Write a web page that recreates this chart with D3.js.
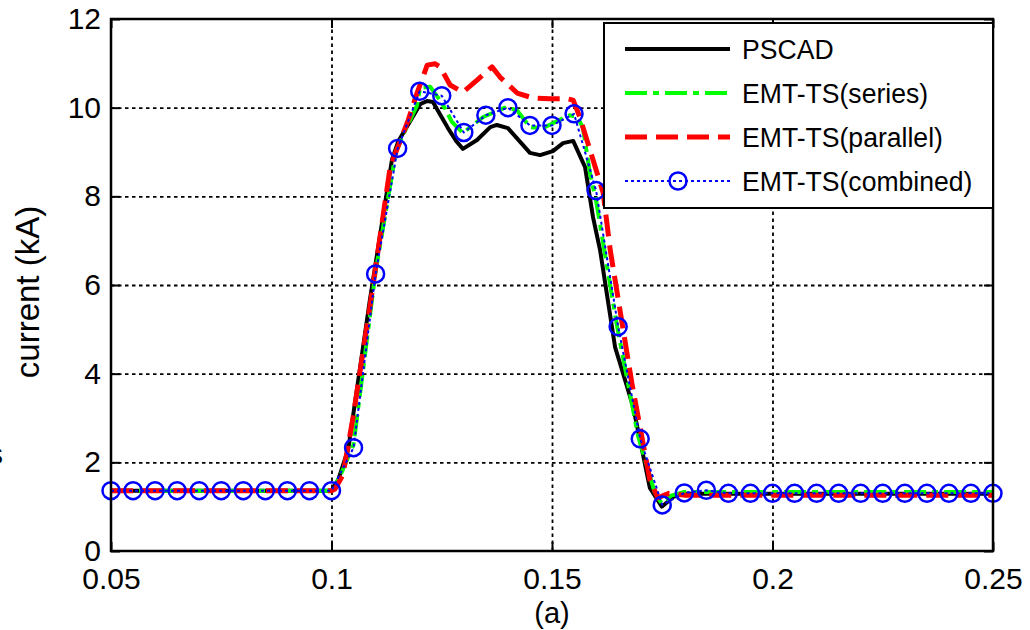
<!DOCTYPE html>
<html>
<head>
<meta charset="utf-8">
<script src="https://cdn.jsdelivr.net/npm/d3@7"></script>
<style>
  body { margin: 0; background: #fff; }
  text { font-family: "Liberation Sans", Arial, sans-serif; fill: #000; }
</style>
</head>
<body>
<script>
// x ticks / y ticks
var xTicks = [0.05, 0.1, 0.15, 0.2, 0.25];
var xTickLabels = ["0.05", "0.1", "0.15", "0.2", "0.25"];
var yTicks = [0, 2, 4, 6, 8, 10, 12];
var yTickLabels = ["0", "2", "4", "6", "8", "10", "12"];

var seriesNames = ["PSCAD", "EMT-TS(series)", "EMT-TS(parallel)", "EMT-TS(combined)"];

// PSCAD (black solid)
var pscadT = [0.05, 0.1, 0.1015, 0.1038, 0.1087, 0.1137, 0.1151, 0.1201, 0.1217, 0.123, 0.1264, 0.1284, 0.1298,
    0.133, 0.136, 0.1375, 0.14, 0.145, 0.1473, 0.1502, 0.1525, 0.1548, 0.1575, 0.1593, 0.1609, 0.1643, 0.1654,
    0.1684, 0.1722, 0.1749, 0.1775, 0.18, 0.25];
var pscadI = [1.36, 1.36, 1.6, 2.3, 5.66, 8.82, 9.23, 10.08, 10.15, 10.13, 9.54, 9.23, 9.07,
    9.27, 9.56, 9.61, 9.54, 8.98, 8.93, 9.02, 9.2, 9.25, 8.66, 7.53, 6.79, 4.6, 4.24,
    3.25, 1.42, 1.0, 1.22, 1.29, 1.29];

// EMT-TS(series) (green dash-dot)
var seriesT = [0.05, 0.1, 0.102, 0.105, 0.11, 0.1146, 0.117, 0.1194, 0.1201, 0.1224, 0.1242, 0.1257, 0.1273,
    0.1298, 0.1344, 0.1393, 0.142, 0.145, 0.148, 0.1502, 0.154, 0.1557, 0.157, 0.1586, 0.16, 0.1647, 0.1695,
    0.1735, 0.1749, 0.177, 0.18, 0.25];
var seriesI = [1.36, 1.36, 1.7, 2.4, 6.3, 9.0, 9.55, 10.05, 10.45, 10.47, 10.22, 9.99, 9.68,
    9.43, 9.79, 10.0, 9.95, 9.56, 9.54, 9.65, 9.83, 9.79, 9.56, 8.52, 7.9, 5.1, 2.6,
    1.25, 1.08, 1.25, 1.33, 1.33];

// EMT-TS(parallel) (red dashed)
var parallelT = [0.05, 0.1, 0.1008, 0.1026, 0.1049, 0.1087, 0.1133, 0.1174, 0.1194, 0.1217, 0.1235, 0.1246,
    0.1269, 0.1298, 0.133, 0.1364, 0.1382, 0.1421, 0.1456, 0.1495, 0.1534, 0.1548, 0.1563, 0.1586, 0.1616,
    0.1632, 0.1681, 0.1722, 0.174, 0.1765, 0.18, 0.25];
var parallelI = [1.36, 1.36, 1.4, 1.72, 3.02, 5.5, 8.66, 9.72, 10.33, 10.96, 10.99, 10.92,
    10.51, 10.35, 10.62, 10.92, 10.69, 10.33, 10.22, 10.2, 10.2, 10.17, 9.79, 9.05, 8.08,
    6.79, 3.79, 1.6, 1.2, 1.3, 1.26, 1.26];

// EMT-TS(combined) (blue dotted, circles every 0.005 s)
var combinedT = [0.05, 0.055, 0.06, 0.065, 0.07, 0.075, 0.08, 0.085, 0.09, 0.095, 0.1,
    0.105, 0.11, 0.115, 0.12, 0.125, 0.13, 0.135, 0.14, 0.145, 0.15, 0.155, 0.16, 0.165, 0.17,
    0.175, 0.18, 0.185, 0.19, 0.195, 0.2, 0.205, 0.21, 0.215, 0.22, 0.225, 0.23, 0.235, 0.24, 0.245, 0.25];
var combinedI = [1.36, 1.36, 1.36, 1.36, 1.36, 1.36, 1.36, 1.36, 1.36, 1.36, 1.36,
    2.33, 6.25, 9.08, 10.37, 10.27, 9.44, 9.83, 10.0, 9.6, 9.6, 9.86, 8.13, 5.06, 2.53,
    1.04, 1.31, 1.37, 1.3, 1.3, 1.3, 1.3, 1.3, 1.3, 1.3, 1.3, 1.3, 1.3, 1.3, 1.3, 1.3];

var margin = {top: 19, right: 37, bottom: 79, left: 111};
var width = 1030 - margin.left - margin.right;
var height = 630 - margin.top - margin.bottom;
var tickFont = "30px";

var svg = d3.select("body")
    .append("svg")
    .attr("width", 1030)
    .attr("height", 630);

var g = svg.append("g")
    .attr("transform", "translate(" + margin.left + ", " + margin.top + ")");

var x = d3.scaleLinear()
    .domain([0.05, 0.25])
    .range([0, width]);

var y = d3.scaleLinear()
    .domain([0, 12])
    .range([height, 0]);

// grid
var gridX = d3.axisBottom(x).tickValues(xTicks.slice(1, -1)).tickSize(-height).tickFormat("");
g.append("g")
    .attr("class", "grid")
    .attr("transform", "translate(0, " + height + ")")
    .call(gridX);
var gridY = d3.axisLeft(y).tickValues(yTicks.slice(1, -1)).tickSize(-width).tickFormat("");
g.append("g")
    .attr("class", "grid")
    .call(gridY);
g.selectAll(".grid .domain").remove();
g.selectAll(".grid line")
    .attr("stroke", "#000")
    .attr("stroke-width", 1.8)
    .attr("stroke-dasharray", "3.5,3.5");

// lines
var line = d3.line()
    .x((d) => x(d[0]))
    .y((d) => y(d[1]));

function pairs(ts, is) {
    return ts.map((t, i) => [t, is[i]]);
}

var styles = [
    {data: pairs(pscadT, pscadI), color: "#000000", w: 4, dash: null},
    {data: pairs(seriesT, seriesI), color: "#00ff00", w: 4, dash: "22,6,6,6"},
    {data: pairs(parallelT, parallelI), color: "#ff0000", w: 5, dash: "22,9"},
    {data: pairs(combinedT, combinedI), color: "#0000ff", w: 2, dash: "3,3"}
];

styles.forEach((s) => {
    g.append("path")
        .datum(s.data)
        .attr("fill", "none")
        .attr("stroke", s.color)
        .attr("stroke-width", s.w)
        .attr("stroke-dasharray", s.dash)
        .attr("stroke-linejoin", "round")
        .attr("d", line);
});

g.selectAll("circle.mk")
    .data(pairs(combinedT, combinedI))
    .enter()
    .append("circle")
    .attr("class", "mk")
    .attr("cx", (d) => x(d[0]))
    .attr("cy", (d) => y(d[1]))
    .attr("r", 8.5)
    .attr("fill", "none")
    .attr("stroke", "#0000ff")
    .attr("stroke-width", 2.5);

// axes: inward ticks on all four sides
var bottomAxis = d3.axisBottom(x)
    .tickValues(xTicks)
    .tickFormat((d, i) => xTickLabels[i])
    .tickSizeInner(-9)
    .tickSizeOuter(0)
    .tickPadding(17);
g.append("g")
    .attr("class", "bottom axis")
    .attr("transform", "translate(0, " + height + ")")
    .call(bottomAxis);

var leftAxis = d3.axisLeft(y)
    .tickValues(yTicks)
    .tickFormat((d, i) => yTickLabels[i])
    .tickSizeInner(-9)
    .tickSizeOuter(0)
    .tickPadding(10);
g.append("g").attr("class", "left axis").call(leftAxis);

g.append("g").attr("class", "top axis")
    .call(d3.axisTop(x).tickValues(xTicks).tickFormat("").tickSizeInner(-9).tickSizeOuter(0));
g.append("g").attr("class", "right axis")
    .attr("transform", "translate(" + width + ", 0)")
    .call(d3.axisRight(y).tickValues(yTicks).tickFormat("").tickSizeInner(-9).tickSizeOuter(0));

g.selectAll(".axis .domain").remove();
g.selectAll(".axis line").attr("stroke", "#000").attr("stroke-width", 2);
g.selectAll(".axis text")
    .style("font-size", tickFont)
    .style("font-family", '"Liberation Sans", Arial, sans-serif')
    .attr("fill", "#000");

g.append("rect")
    .attr("x", 0)
    .attr("y", 0)
    .attr("width", width)
    .attr("height", height)
    .attr("fill", "none")
    .attr("stroke", "#000")
    .attr("stroke-width", 2.5);

// legend
var lg = svg.append("g").attr("transform", "translate(604, 23)");
lg.append("rect")
    .attr("width", 389)
    .attr("height", 185)
    .attr("fill", "#fff")
    .attr("stroke", "#000")
    .attr("stroke-width", 2);

seriesNames.forEach((name, i) => {
    var yy = 26 + i * 44;
    var s = styles[i];
    lg.append("line")
        .attr("x1", 21).attr("x2", 126)
        .attr("y1", yy).attr("y2", yy)
        .attr("stroke", s.color)
        .attr("stroke-width", s.w)
        .attr("stroke-dasharray", s.dash);
    if (i === 3) {
        lg.append("circle")
            .attr("cx", 74).attr("cy", yy)
            .attr("r", 8.5)
            .attr("fill", "none")
            .attr("stroke", "#0000ff")
            .attr("stroke-width", 2.5);
    }
    lg.append("text")
        .attr("transform", "translate(138, " + (yy + 10) + ") scale(0.95, 1)")
        .attr("font-size", "28px")
        .text(name);
});

// axis labels
svg.append("text")
    .attr("transform", "rotate(-90)")
    .attr("x", -292)
    .attr("y", 39)
    .attr("font-size", "33px")
    .attr("text-anchor", "middle")
    .text("current (kA)");

svg.append("text")
    .attr("x", margin.left + width / 2)
    .attr("y", 623)
    .attr("font-size", "29px")
    .attr("text-anchor", "middle")
    .text("(a)");

// clipped glyph at the left edge of the original figure
svg.append("text")
    .attr("x", -12)
    .attr("y", 464)
    .attr("font-size", "30px")
    .text("s");
</script>
</body>
</html>
